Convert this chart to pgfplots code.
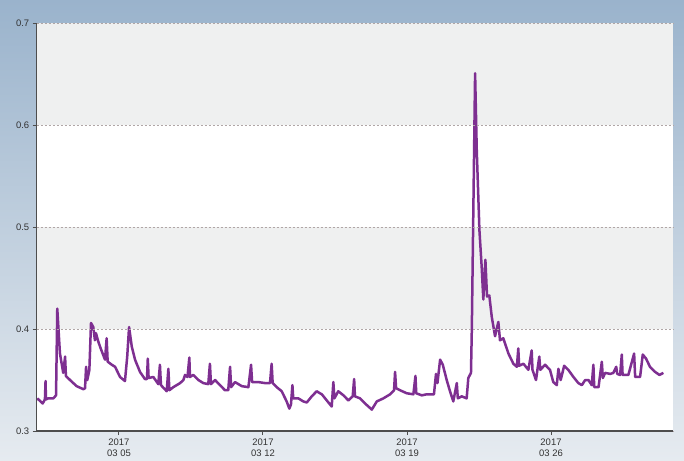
\documentclass[border=0pt]{standalone}
\usepackage{pgfplots}
\pgfplotsset{compat=1.18}
\usepackage{fontspec}
\setmainfont{Liberation Sans}
\definecolor{bgtop}{HTML}{9AB3CC}
\definecolor{bgbot}{HTML}{E6EBF0}
\definecolor{band}{HTML}{EFF0F0}
\definecolor{gridc}{HTML}{B0A6A6}
\definecolor{axc}{HTML}{4D4D4D}
\definecolor{linec}{HTML}{7E2F91}
\begin{document}
\begin{tikzpicture}
\shade[top color=bgtop, bottom color=bgbot] (0,0) rectangle (684bp,461bp);
\begin{axis}[
 axis on top,
 scale only axis, width=636.3bp, height=407.7bp,
 at={(36.7bp,30bp)}, anchor=south west,
 xmin=0, xmax=30.93, ymin=0.3, ymax=0.7,
 axis x line*=bottom, axis y line*=left,
 axis line style={axc, line width=1.3bp, -},
 xtick={4,11,18,25},
 xticklabels={{2017\\03 05},{2017\\03 12},{2017\\03 19},{2017\\03 26}},
 x tick label style={align=center, font=\fontsize{9.5}{11.5}\selectfont, text=black!80},
 ytick={0.3,0.4,0.5,0.6,0.7},
 y tick label style={font=\fontsize{9.5}{11.5}\selectfont, text=black!80},
 yticklabel style={/pgf/number format/.cd, fixed, fixed zerofill, precision=1, assume math mode=true},
 tick align=outside, major tick length=4bp,
 tick style={axc, line width=1bp},
 ymajorgrids, grid style={gridc, dash pattern=on 2.5bp off 1.5bp, line width=0.8bp},
 axis background/.style={fill=white},
]
\fill[band] (axis cs:0,0.4) rectangle (axis cs:30.93,0.5);
\fill[band] (axis cs:0,0.6) rectangle (axis cs:30.93,0.7);
\addplot[linec, line width=2.5bp, line join=round] table {
x y
0.03 0.332
0.29 0.327
0.40 0.331
0.43 0.349
0.45 0.331
0.56 0.332
0.81 0.332
0.94 0.335
1.00 0.420
1.13 0.376
1.29 0.357
1.38 0.373
1.42 0.354
1.62 0.350
1.94 0.344
2.27 0.341
2.35 0.342
2.40 0.363
2.46 0.350
2.56 0.360
2.64 0.406
2.75 0.402
2.83 0.389
2.88 0.396
2.99 0.388
3.11 0.381
3.32 0.370
3.40 0.391
3.45 0.368
3.65 0.365
3.81 0.363
4.05 0.353
4.29 0.349
4.40 0.373
4.49 0.402
4.62 0.383
4.78 0.370
5.02 0.358
5.26 0.351
5.36 0.351
5.40 0.371
5.44 0.352
5.67 0.353
5.91 0.346
5.99 0.365
6.04 0.345
6.32 0.339
6.40 0.361
6.45 0.340
6.64 0.343
6.97 0.347
7.13 0.350
7.21 0.355
7.33 0.353
7.42 0.372
7.45 0.353
7.61 0.355
7.86 0.350
8.10 0.347
8.34 0.346
8.42 0.366
8.47 0.346
8.67 0.350
8.91 0.345
9.15 0.340
9.31 0.340
9.40 0.363
9.45 0.343
9.64 0.348
9.97 0.344
10.29 0.343
10.42 0.365
10.47 0.348
10.77 0.348
11.10 0.347
11.34 0.347
11.42 0.366
11.47 0.347
11.67 0.343
11.91 0.339
12.15 0.329
12.28 0.322
12.36 0.326
12.43 0.345
12.47 0.332
12.72 0.332
12.96 0.329
13.13 0.328
13.37 0.334
13.61 0.339
13.77 0.337
13.86 0.336
14.10 0.330
14.34 0.324
14.42 0.348
14.47 0.332
14.66 0.339
14.91 0.335
15.15 0.330
15.36 0.334
15.43 0.351
15.47 0.334
15.72 0.332
15.96 0.327
16.29 0.321
16.53 0.329
16.85 0.332
17.18 0.336
17.37 0.340
17.42 0.358
17.47 0.342
17.66 0.340
17.99 0.337
18.31 0.336
18.41 0.354
18.45 0.337
18.72 0.335
18.96 0.336
19.31 0.336
19.41 0.356
19.48 0.347
19.61 0.370
19.74 0.365
19.93 0.350
20.09 0.339
20.25 0.329
20.42 0.347
20.47 0.332
20.66 0.334
20.90 0.332
20.98 0.352
21.11 0.357
21.15 0.399
21.31 0.651
21.39 0.576
21.52 0.497
21.63 0.461
21.71 0.429
21.81 0.468
21.89 0.432
22.00 0.433
22.12 0.412
22.28 0.393
22.44 0.407
22.52 0.389
22.68 0.391
22.93 0.376
23.17 0.366
23.34 0.363
23.41 0.381
23.45 0.364
23.66 0.366
23.90 0.360
24.06 0.379
24.10 0.360
24.27 0.350
24.43 0.373
24.48 0.360
24.71 0.365
24.95 0.360
25.11 0.348
25.28 0.345
25.36 0.361
25.47 0.350
25.64 0.364
25.84 0.360
26.09 0.353
26.33 0.347
26.50 0.345
26.66 0.350
26.82 0.350
26.98 0.345
27.06 0.365
27.10 0.343
27.31 0.343
27.47 0.368
27.52 0.352
27.63 0.357
27.88 0.356
28.03 0.357
28.17 0.363
28.22 0.356
28.36 0.355
28.44 0.375
28.48 0.355
28.76 0.355
29.04 0.376
29.09 0.353
29.33 0.353
29.46 0.375
29.62 0.371
29.81 0.363
30.06 0.358
30.27 0.355
30.46 0.357
};
\end{axis}
\pgfresetboundingbox
\path (0,0) rectangle (684bp,461bp);
\end{tikzpicture}
\end{document}
